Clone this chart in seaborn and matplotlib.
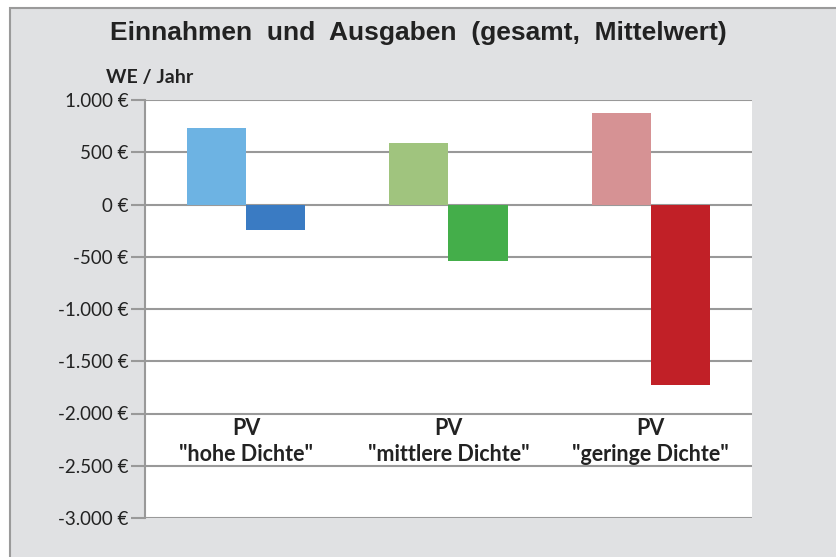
import numpy as np
import pandas as pd
import matplotlib.pyplot as plt
import seaborn as sns
from matplotlib.patches import Rectangle
from matplotlib.ticker import FuncFormatter

# data (EUR per WE and year)
categories = ['PV\n"hohe Dichte"', 'PV\n"mittlere Dichte"', 'PV\n"geringe Dichte"']
einnahmen = [732, 588, 876]
ausgaben = [-244, -541, -1724]
colors_ein = ['#6DB3E3', '#A0C47E', '#D69294']
colors_aus = ['#3A7BC3', '#44AE4A', '#C12027']

df = pd.DataFrame({
    'cat': categories * 2,
    'art': ['Einnahmen'] * 3 + ['Ausgaben'] * 3,
    'wert': einnahmen + ausgaben,
})

sns.set_style('white')
plt.rcParams['font.family'] = ['Lato', 'DejaVu Sans']

fig = plt.figure(figsize=(8.37, 5.57), dpi=100)
fig.patch.set_facecolor('white')
# grey chart area with border
fig.patches.append(Rectangle((10 / 837, -0.01), 1.0, 1 - 8 / 557 + 0.01, transform=fig.transFigure,
                             facecolor='#E0E1E3', edgecolor='#9A9A9A', lw=1.5, zorder=-1))

ax = fig.add_axes([145 / 837, 1 - 518 / 557, (752 - 145) / 837, (518 - 100) / 557])
g = sns.barplot(data=df, x='cat', y='wert', hue='art', width=0.585, saturation=1,
                legend=False, ax=ax)
# each bar gets its own colour
bars = [p for p in ax.patches if p.get_height() != 0]
for p, c in zip(bars, colors_ein + colors_aus):
    p.set_facecolor(c)
    p.set_edgecolor('none')
    p.set_zorder(3)

ax.set_facecolor('white')
ax.set_ylim(-3000, 1000)
ax.set_yticks(np.arange(-3000, 1001, 500))
ax.yaxis.set_major_formatter(FuncFormatter(lambda v, p: '{:,.0f} €'.format(v).replace(',', '.')))
ax.grid(axis='y', color='#999999', lw=1.5, zorder=1)
ax.set_axisbelow(True)
for s in ['top', 'right', 'bottom']:
    ax.spines[s].set_visible(False)
ax.spines['left'].set_color('#999999')
ax.spines['left'].set_linewidth(1.5)
ax.tick_params(axis='y', length=10, width=1.5, color='#999999', labelsize=13.5, labelcolor='#222222', pad=2, left=True)
ax.set_xticks([])
ax.set_xlabel('')
ax.set_ylabel('')
ax.set_xlim(-0.5, 2.5)

# category labels sit just below the -2000 line
for i, lab in enumerate(categories):
    ax.text(i, -2040, lab, ha='center', va='top', fontsize=15.5, fontweight='bold',
            color='#222222', linespacing=1.3)

fig.text(0.5, 1 - 33 / 557, 'Einnahmen  und  Ausgaben  (gesamt,  Mittelwert)', ha='center', va='center',
         fontsize=19, fontweight='bold', color='#222222', family=['Liberation Sans', 'DejaVu Sans'])
fig.text(150 / 837, 1 - 77 / 557, 'WE / Jahr', ha='center', va='center', fontsize=14,
         fontweight='bold', color='#222222')

fig.savefig('out.png', dpi=100, facecolor=fig.get_facecolor())
